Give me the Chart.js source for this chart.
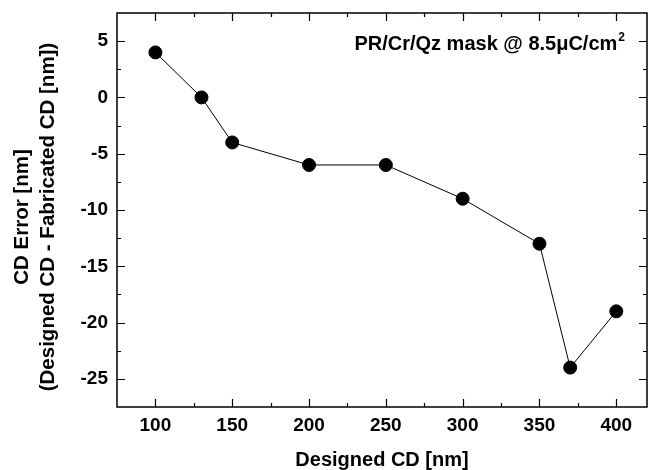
<!DOCTYPE html>
<html>
<head>
<meta charset="utf-8">
<script src="https://cdn.jsdelivr.net/npm/chart.js@4.4.0/dist/chart.umd.min.js"></script>
<style>
  html, body { margin: 0; padding: 0; background: #fff; }
  #wrap { width: 648px; height: 470px; }
</style>
</head>
<body>
<div id="wrap"><canvas id="cdChart" width="648" height="470"></canvas></div>
<script>
// designed CD (nm) and measured error (nm)
const designedCD = [100, 130, 150, 200, 250, 300, 350, 370, 400];
const cdError = [4, 0, -4, -6, -6, -9, -13, -24, -19];

const xMajor = [100, 150, 200, 250, 300, 350, 400];
const xMinor = [125, 175, 225, 275, 325, 375];
const yMajor = [-25, -20, -15, -10, -5, 0, 5];
const yMinor = [-22.5, -17.5, -12.5, -7.5, -2.5, 2.5];

const yTitle = ["CD Error [nm]", "(Designed CD - Fabricated CD [nm])"];
const noteText = "PR/Cr/Qz mask @ 8.5\u03BCC/cm";
const noteSup = "2";

const FONT = "'Liberation Sans', Arial, sans-serif";

// frame, inward ticks on all four sides, y title, annotation
const frameTicks = {
  id: "frameTicks",
  afterDraw(chart) {
    const { ctx, chartArea: a, scales } = chart;
    const xs = scales.x, ys = scales.y;
    ctx.save();
    ctx.strokeStyle = "#000";
    ctx.lineWidth = 1.5;
    ctx.strokeRect(a.left, a.top, a.right - a.left, a.bottom - a.top);
    ctx.lineWidth = 1.2;
    ctx.beginPath();
    const xt = (vals, len) => vals.forEach(v => {
      const px = Math.round(xs.getPixelForValue(v)) + 0.5;
      ctx.moveTo(px, a.bottom); ctx.lineTo(px, a.bottom - len);
      ctx.moveTo(px, a.top); ctx.lineTo(px, a.top + len);
    });
    const yt = (vals, len) => vals.forEach(v => {
      const py = Math.round(ys.getPixelForValue(v)) + 0.5;
      ctx.moveTo(a.left, py); ctx.lineTo(a.left + len, py);
      ctx.moveTo(a.right, py); ctx.lineTo(a.right - len, py);
    });
    xt(xMajor, 8); xt(xMinor, 4);
    yt(yMajor, 8); yt(yMinor, 4);
    ctx.stroke();

    ctx.fillStyle = "#000";
    ctx.textBaseline = "alphabetic";

    // y axis title, two lines, rotated
    ctx.save();
    ctx.translate(0, 217);
    ctx.rotate(-Math.PI / 2);
    ctx.textAlign = "center";
    ctx.font = "bold 20.5px " + FONT;
    ctx.fillText(yTitle[0], 0, 28);
    ctx.fillText(yTitle[1], 0, 54);
    ctx.restore();

    // annotation, top right
    ctx.textAlign = "right";
    const xEnd = a.right - 22;
    ctx.font = "bold 12px " + FONT;
    const supW = ctx.measureText(noteSup).width;
    ctx.fillText(noteSup, xEnd, a.top + 28);
    ctx.font = "bold 20px " + FONT;
    ctx.fillText(noteText, xEnd - supW - 1, a.top + 37);
    ctx.restore();
  }
};

new Chart(document.getElementById("cdChart"), {
  type: "scatter",
  data: {
    datasets: [{
      data: designedCD.map((x, i) => ({ x: x, y: cdError[i] })),
      showLine: true,
      borderColor: "#000",
      borderWidth: 1,
      backgroundColor: "#000",
      pointBackgroundColor: "#000",
      pointBorderColor: "#000",
      pointRadius: 6.5,
      pointHoverRadius: 6.5
    }]
  },
  options: {
    responsive: false,
    animation: false,
    layout: { autoPadding: false, padding: { left: 0, right: 1, top: 13, bottom: 0 } },
    plugins: { legend: { display: false }, tooltip: { enabled: false } },
    scales: {
      x: {
        type: "linear",
        min: 75, max: 420,
        grid: { display: false, drawTicks: false },
        border: { display: false },
        afterBuildTicks: s => { s.ticks = xMajor.map(v => ({ value: v })); },
        afterFit: s => { s.height = 63; s.paddingLeft = 0; s.paddingRight = 0; },
        ticks: {
          color: "#000", padding: 7,
          font: { family: FONT, size: 19, weight: "bold" }
        },
        title: {
          display: true, text: "Designed CD [nm]", color: "#000",
          padding: { top: 0, bottom: 0 },
          font: { family: FONT, size: 20, weight: "bold", lineHeight: 1 }
        }
      },
      y: {
        type: "linear",
        min: -27.5, max: 7.5,
        grid: { display: false, drawTicks: false },
        border: { display: false },
        afterBuildTicks: s => { s.ticks = yMajor.map(v => ({ value: v })); },
        afterFit: s => { s.width = 117; s.paddingTop = 0; s.paddingBottom = 0; },
        ticks: {
          color: "#000", padding: 9,
          font: { family: FONT, size: 19, weight: "bold" }
        }
      }
    }
  },
  plugins: [frameTicks]
});
</script>
</body>
</html>
